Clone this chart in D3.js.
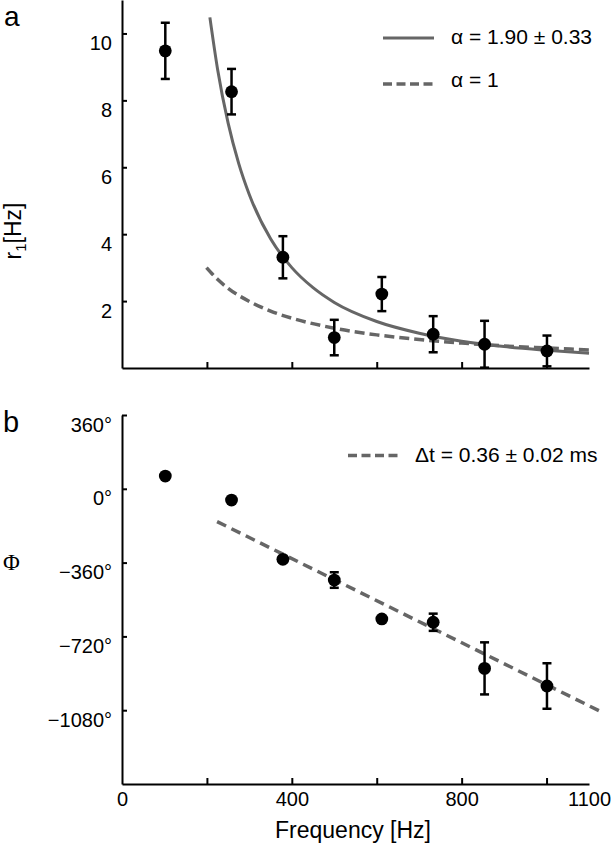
<!DOCTYPE html>
<html>
<head>
<meta charset="utf-8">
<script src="https://cdn.jsdelivr.net/npm/d3@7"></script>
<style>
  html, body { margin: 0; padding: 0; background: #fff; }
  svg { display: block; }
  text { font-family: "Liberation Sans", Arial, Helvetica, sans-serif; fill: #000; }
</style>
</head>
<body>
<svg id="chart" width="614" height="853"></svg>
<script>
// ---------- data ----------
const freqs     = [102, 258, 379, 500, 612, 733, 854, 1001];           // Hz
const rate      = [9.48, 8.26, 3.31, 0.91, 2.21, 1.01, 0.71, 0.51];    // r1 [Hz]
const rateErr   = [0.84, 0.68, 0.63, 0.53, 0.51, 0.54, 0.70, 0.46];
const phase     = [62, -55, -344, -445, -635, -651, -876, -962];       // degrees
const phaseErr  = [0, 0, 0, 38, 0, 42, 127, 111];

// fitted curve alpha = 1.90
const fitFreq   = [207, 225, 250, 275, 300, 350, 400, 450, 500, 600, 700, 800, 900, 1000, 1100];
const fitRate   = [10.48, 8.94, 7.32, 6.11, 5.18, 3.86, 3.00, 2.40, 1.96, 1.39, 1.04, 0.80, 0.64, 0.53, 0.44];
// alpha = 1 curve
const unitFreq  = [199, 225, 250, 300, 350, 400, 500, 600, 700, 800, 900, 1000, 1100];
const unitRate  = [3.00, 2.65, 2.38, 1.99, 1.70, 1.49, 1.19, 0.99, 0.85, 0.745, 0.66, 0.60, 0.54];
// phase delay line
const delayFreq = [224, 1128];
const delayPhase = [-160, -1087];

const rTicks = [2, 4, 6, 8, 10];
const phiTicks = [360, 0, -360, -720, -1080];
const phiTickLabels = ["360°", "0°", "−360°", "−720°", "−1080°"];
const xTicks = [0, 200, 400, 600, 800, 1000, 1100];
const xTickLabels = ["0", "", "400", "", "800", "", "1100"];

const legendTop = ["α = 1.90 ± 0.33", "α = 1"];
const legendBottom = ["Δt = 0.36 ± 0.02 ms"];

// ---------- drawing ----------
const svg = d3.select("#chart");
const GRAY = "#666666";

const x = d3.scaleLinear().domain([0, 1100]).range([122, 589]);
const yR = d3.scaleLinear().domain([0, 11]).range([368, 0]);
const yP = d3.scaleLinear().domain([-1440, 360]).range([784, 415]);

function styleAxis(g) {
  g.select(".domain").attr("stroke", "#000").attr("stroke-width", 2);
  g.selectAll(".tick line").attr("stroke", "#000").attr("stroke-width", 2);
}

// ---- panel a ----
const gA = svg.append("g");
const xAxA = gA.append("g").attr("transform", `translate(0,${yR(0)})`)
  .call(d3.axisBottom(x).tickValues([200, 400, 600, 800, 1000]).tickSizeInner(-6).tickSizeOuter(0).tickFormat(""));
styleAxis(xAxA);
xAxA.selectAll("text").remove();

const yAxA = gA.append("g").attr("transform", `translate(${x(0)},0)`)
  .call(d3.axisLeft(yR).tickValues(rTicks).tickSizeInner(-5).tickSizeOuter(0).tickFormat(d3.format("d")));
styleAxis(yAxA);
yAxA.selectAll(".tick text")
  .attr("x", -10).attr("dy", 0).attr("y", 16.5)
  .attr("font-size", 20).attr("font-family", "Liberation Sans, Arial, sans-serif");

// curves
const lineR = d3.line().x(d => x(d[0])).y(d => yR(d[1])).curve(d3.curveMonotoneX);
gA.append("path").datum(d3.zip(fitFreq, fitRate)).attr("d", lineR)
  .attr("fill", "none").attr("stroke", GRAY).attr("stroke-width", 3);
gA.append("path").datum(d3.zip(unitFreq, unitRate)).attr("d", lineR)
  .attr("fill", "none").attr("stroke", GRAY).attr("stroke-width", 3.5).attr("stroke-dasharray", "10,5");

function errorBars(g, xs, ys, es, ys2) {
  const data = d3.zip(xs, ys, es);
  const eb = g.append("g");
  data.forEach(([f, v, e]) => {
    if (e <= 0) return;
    const cx = x(f), y1 = ys2(v + e), y2 = ys2(Math.max(v - e, ys2.domain()[0]));
    eb.append("line").attr("x1", cx).attr("x2", cx).attr("y1", y1).attr("y2", y2)
      .attr("stroke", "#000").attr("stroke-width", 2.5);
    [y1, y2].forEach(yy => eb.append("line").attr("x1", cx - 4.5).attr("x2", cx + 4.5)
      .attr("y1", yy).attr("y2", yy).attr("stroke", "#000").attr("stroke-width", 2.5));
  });
  g.append("g").selectAll("circle").data(d3.zip(xs, ys)).join("circle")
    .attr("cx", d => x(d[0])).attr("cy", d => ys2(d[1])).attr("r", 6.4).attr("fill", "#000");
}
errorBars(gA, freqs, rate, rateErr, yR);

// legend a
gA.append("line").attr("x1", 383).attr("x2", 434).attr("y1", 38).attr("y2", 38)
  .attr("stroke", GRAY).attr("stroke-width", 3);
gA.append("text").attr("x", 451).attr("y", 44).attr("font-size", 21).text(legendTop[0]);
gA.append("line").attr("x1", 383).attr("x2", 434).attr("y1", 84).attr("y2", 84)
  .attr("stroke", GRAY).attr("stroke-width", 3.5).attr("stroke-dasharray", "9,4.5");
gA.append("text").attr("x", 451).attr("y", 87).attr("font-size", 21).text(legendTop[1]);

// labels a
svg.append("text").attr("x", 4).attr("y", 26).attr("font-size", 28).text("a");
const rl = svg.append("text").attr("transform", "translate(21,231) rotate(-90)")
  .attr("text-anchor", "middle").attr("font-size", 23);
rl.append("tspan").text("r");
rl.append("tspan").attr("font-size", 15).attr("dy", 5).text("1");
rl.append("tspan").attr("dy", -5).text("[Hz]");

// ---- panel b ----
const gB = svg.append("g");
const xAxB = gB.append("g").attr("transform", `translate(0,${yP(-1440)})`)
  .call(d3.axisBottom(x).tickValues(xTicks).tickSizeInner(-6).tickSizeOuter(0)
    .tickFormat((d, i) => xTickLabels[i]));
styleAxis(xAxB);
xAxB.selectAll(".tick").filter(d => d === 0 || d === 1100).select("line").remove();
xAxB.selectAll(".tick text").attr("y", 22).attr("dy", 0).attr("font-size", 20)
  .attr("font-family", "Liberation Sans, Arial, sans-serif");

const yAxB = gB.append("g").attr("transform", `translate(${x(0)},0)`)
  .call(d3.axisLeft(yP).tickValues(phiTicks).tickSizeInner(-5).tickSizeOuter(0)
    .tickFormat((d, i) => phiTickLabels[i]));
styleAxis(yAxB);
yAxB.selectAll(".tick text").attr("x", -10).attr("dy", 0).attr("y", 16)
  .attr("font-size", 20).attr("font-family", "Liberation Sans, Arial, sans-serif");

const lineP = d3.line().x(d => x(d[0])).y(d => yP(d[1]));
gB.append("path").datum(d3.zip(delayFreq, delayPhase)).attr("d", lineP)
  .attr("fill", "none").attr("stroke", GRAY).attr("stroke-width", 3.5).attr("stroke-dasharray", "10,6");

errorBars(gB, freqs, phase, phaseErr, yP);

// legend b
gB.append("line").attr("x1", 348).attr("x2", 399).attr("y1", 455.5).attr("y2", 455.5)
  .attr("stroke", GRAY).attr("stroke-width", 3.5).attr("stroke-dasharray", "9,4.5");
gB.append("text").attr("x", 415).attr("y", 462).attr("font-size", 21).text(legendBottom[0]);

// labels b
svg.append("text").attr("x", 3).attr("y", 432).attr("font-size", 29).text("b");
svg.append("text").attr("x", 3).attr("y", 570).attr("font-size", 23)
  .style("font-family", "Liberation Serif, 'Times New Roman', serif").text("Φ");
svg.append("text").attr("x", 353).attr("y", 838).attr("text-anchor", "middle")
  .attr("font-size", 23).text("Frequency [Hz]");
</script>
</body>
</html>
